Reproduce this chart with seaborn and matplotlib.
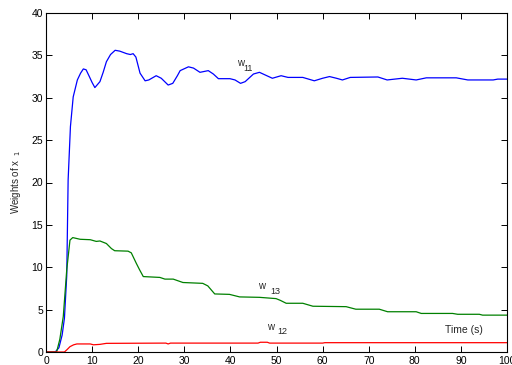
import matplotlib
matplotlib.use("Agg")
import matplotlib.pyplot as plt
import seaborn as sns
import pandas as pd

# ---- data ----
t_w11 = [0, 2, 2.8, 3.5, 4, 4.5, 4.8, 5.3, 5.9, 6.8, 7.5, 8.1, 8.7, 9.4, 10.0, 10.6, 11.7, 12.4,
         13.1, 14.0, 15.0, 16.0, 17.5, 18.3, 18.9, 19.5, 20.4, 21.5, 22.3, 23.9, 25.0, 26.5, 27.5,
         28.5, 29.1, 30.9, 32.0, 33.4, 35.2, 36.3, 37.4, 39.9, 41.0, 42.2, 43.2, 45.0, 46.3, 47.5,
         49.1, 51.0, 52.5, 55.7, 58.2, 60.0, 61.5, 63.0, 64.3, 66.0, 72.0, 74.0, 77.3, 80.3, 82.5,
         89.0, 91.5, 97.0, 98.0, 100]
v_w11 = [0, 0, 0.5, 2, 4, 9, 20.3, 26.6, 30.1, 32.1, 32.9, 33.4, 33.3, 32.5, 31.8, 31.2, 31.9, 33.0,
         34.25, 35.1, 35.6, 35.5, 35.2, 35.1, 35.2, 34.8, 32.9, 32.0, 32.1, 32.6, 32.3, 31.5, 31.7,
         32.6, 33.2, 33.65, 33.5, 33.0, 33.2, 32.8, 32.25, 32.25, 32.1, 31.7, 31.9, 32.8, 33.0, 32.7,
         32.3, 32.6, 32.4, 32.4, 32.0, 32.3, 32.5, 32.3, 32.1, 32.4, 32.45, 32.1, 32.3, 32.1, 32.35,
         32.35, 32.1, 32.1, 32.2, 32.2]

t_w13 = [0, 2.3, 3.0, 3.75, 4.5, 5.2, 5.8, 7.4, 9.6, 10.9, 11.7, 13.1, 14.2, 14.9, 17.8, 18.5,
         19.6, 20.3, 21.1, 24.7, 25.8, 27.6, 29.7, 34.0, 35.1, 36.6, 39.8, 42.0, 46.3, 49.9, 50.8,
         52.1, 55.7, 57.9, 65.1, 67.2, 72.3, 74.1, 80.3, 81.4, 88.2, 89.3, 94.0, 94.7, 100]
v_w13 = [0, 0, 1.5, 4.2, 9.7, 13.2, 13.5, 13.3, 13.25, 13.05, 13.1, 12.8, 12.2, 11.95, 11.9, 11.7,
         10.45, 9.7, 8.9, 8.8, 8.6, 8.6, 8.2, 8.1, 7.8, 6.85, 6.8, 6.5, 6.45, 6.3, 6.1,
         5.75, 5.75, 5.4, 5.35, 5.05, 5.05, 4.75, 4.75, 4.55, 4.55, 4.45, 4.45, 4.35, 4.35]

t_w12 = [0, 4.0, 4.6, 5.2, 6.0, 6.7, 9.6, 10.3, 11.7, 13.1, 26.0, 26.5, 27.0, 46.0, 46.5, 48.0,
         48.5, 60.0, 60.5, 100]
v_w12 = [0, 0, 0.3, 0.63, 0.85, 0.95, 0.95, 0.85, 0.9, 1.02, 1.05, 0.95, 1.05, 1.05, 1.15, 1.15,
         1.05, 1.05, 1.1, 1.1]

x_ticks = list(range(0, 101, 10))
y_ticks = list(range(0, 41, 5))

sns.set_theme(style="white")
plt.rcParams["font.family"] = ["Liberation Sans", "DejaVu Sans"]

fig = plt.figure(figsize=(5.12, 3.65), dpi=100)
ax = fig.add_axes([46 / 512, 1 - 352 / 365, (507 - 46) / 512, (352 - 13) / 365])

frames = [
    pd.DataFrame({"t": t_w11, "v": v_w11, "s": "w11"}),
    pd.DataFrame({"t": t_w13, "v": v_w13, "s": "w13"}),
    pd.DataFrame({"t": t_w12, "v": v_w12, "s": "w12"}),
]
df = pd.concat(frames, ignore_index=True)
sns.lineplot(data=df, x="t", y="v", hue="s",
             palette={"w11": "#0000ff", "w13": "#008000", "w12": "#ff0000"},
             linewidth=0.9, ax=ax, legend=False, estimator=None, sort=False)

ax.set_xlim(0, 100)
ax.set_ylim(0, 40)
ax.set_xticks(x_ticks)
ax.set_yticks(y_ticks)
ax.set_xlabel("")
ax.set_ylabel("Weights of x$_{\\ \\ 1}$", fontsize=7)
ax.yaxis.set_label_coords(-0.05, 0.5)
ax.tick_params(direction="in", length=4, width=0.7, labelsize=7.5, colors="black",
               top=True, right=True, bottom=True, left=True, pad=2)
ax.tick_params(axis="x", pad=3)
for s in ax.spines.values():
    s.set_color("black")
    s.set_linewidth(0.8)
    s.set_visible(True)
ax.grid(False)

ax.text(41.5, 33.7, "w", fontsize=7)
ax.text(42.7, 33.1, "11", fontsize=6.5)
ax.text(46.0, 7.4, "w", fontsize=7)
ax.text(48.6, 6.8, "13", fontsize=6.5)
ax.text(48.0, 2.6, "w", fontsize=7)
ax.text(50.1, 2.1, "12", fontsize=6.5)
ax.text(86.5, 2.2, "Time (s)", fontsize=7.5)

fig.savefig("out.png", dpi=100)
